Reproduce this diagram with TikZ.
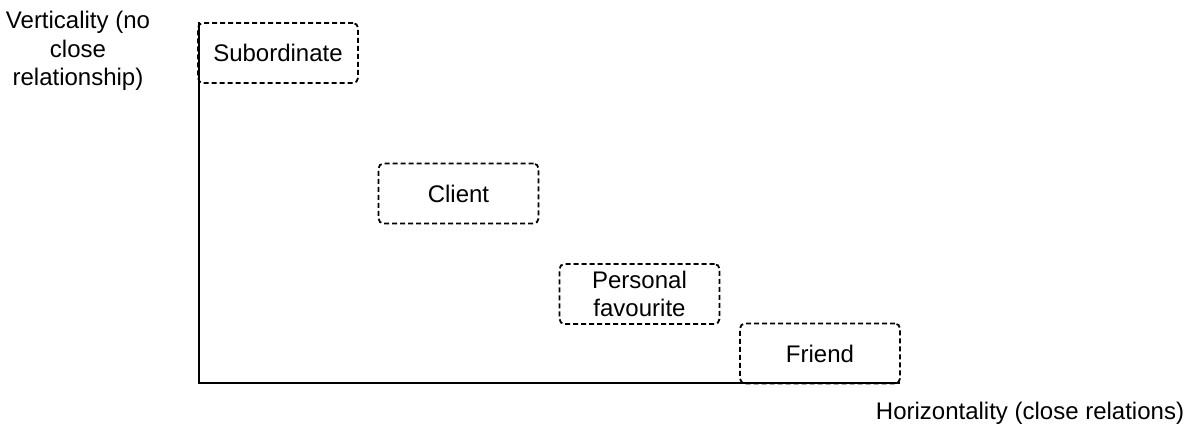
\documentclass[tikz,border=0pt]{standalone}
\usepackage{fontspec}
\setmainfont{Liberation Sans}
\begin{document}
\begin{tikzpicture}[x=1pt,y=-1pt,
  every node/.style={font=\fontsize{24}{28.5}\selectfont, text=black},
  box/.style={draw, dash pattern=on 5pt off 3pt, rounded corners=5pt,
    minimum width=160pt, minimum height=60pt, line width=1.8pt,
    align=center, inner sep=0pt},
  axis/.style={draw, line width=1.9pt},
  lbl/.style={align=center, inner sep=0pt}]
\useasboundingbox (0,0) rectangle (1202,435);
\coordinate (top) at (199,22);
\coordinate (origin) at (199,383);
\coordinate (xend) at (900,383);
\draw[axis] (top) -- (origin) -- (xend);
\node[box] (sub) at (278,53) {Subordinate};
\node[box] (client) at (458.5,193.5) {Client};
\node[box] (pers) at (639.5,294) {Personal\\favourite};
\node[box] (friend) at (820,353.5) {Friend};
\node[lbl] (vert) at (78,51) {Verticality (no\\close\\relationship)};
\node[lbl] (horiz) at (1030,413) {Horizontality (close relations)};
\end{tikzpicture}
\end{document}
